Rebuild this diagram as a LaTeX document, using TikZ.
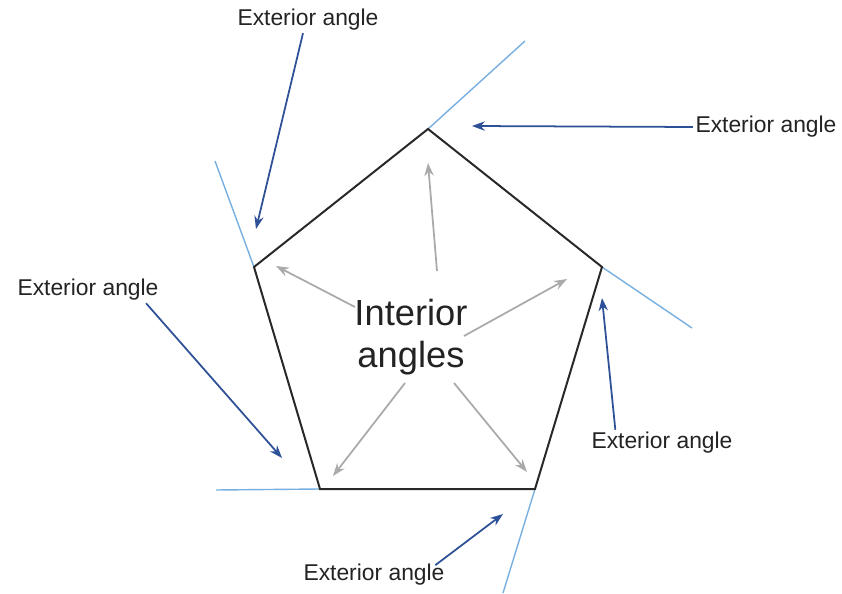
\documentclass[tikz,border=0pt]{standalone}
\usepackage{fontspec}
\setmainfont{Liberation Sans}
\usetikzlibrary{arrows.meta}
\definecolor{edgeline}{RGB}{40,40,40}
\definecolor{extline}{RGB}{120,175,225}
\definecolor{extarrow}{RGB}{45,80,150}
\definecolor{intarrow}{RGB}{170,170,170}
\definecolor{txtcol}{RGB}{35,35,35}

\begin{document}
\begin{tikzpicture}[
  x=0.03cm, y=-0.03cm,
  side/.style={draw=edgeline, line width=1.7pt, line join=miter},
  extension/.style={draw=extline, line width=1.2pt},   % produced side
  exlabel/.style={
    text=txtcol, font=\fontsize{19.5}{23}\selectfont, inner sep=2pt
  },
  inlabel/.style={
    text=txtcol, font=\fontsize{31}{36}\selectfont, align=center, inner sep=0pt
  },
  exarrow/.style={draw=extarrow, line width=1.5pt, -{Stealth[length=11pt,width=8pt]}},
  inarrow/.style={draw=intarrow, line width=1.5pt, -{Stealth[length=11pt,width=8pt]}},
]
\useasboundingbox (0,0) rectangle (842,594);

% ---- Pentagon corners ----
\coordinate (vT)  at (428,129);
\coordinate (vR)  at (602,267);
\coordinate (vBR) at (535,489);
\coordinate (vBL) at (320,489);
\coordinate (vL)  at (254,267);

% ---- Ends of the produced sides ----
\coordinate (eT)  at (525,41);
\coordinate (eR)  at (692,328);
\coordinate (eBR) at (503,593);
\coordinate (eBL) at (216,490);
\coordinate (eL)  at (215,161);

\foreach \v/\e in {vT/eT, vR/eR, vBR/eBR, vBL/eBL, vL/eL}
  \draw[extension] (\v) -- (\e);

\draw[side] (vT) -- (vR) -- (vBR) -- (vBL) -- (vL) -- cycle;

% ---- Interior angles ----
\node (inner) at (411,337) [inlabel] {Interior\\angles};

\coordinate (sT)  at (437,271);  \coordinate (gT)  at (428,163);
\coordinate (sR)  at (464,336);  \coordinate (gR)  at (567,279);
\coordinate (sL)  at (355,307);  \coordinate (gL)  at (276,266);
\coordinate (sBL) at (405,383);  \coordinate (gBL) at (333,476);
\coordinate (sBR) at (454,383);  \coordinate (gBR) at (527,472);

\foreach \s/\g in {sT/gT, sR/gR, sL/gL, sBL/gBL, sBR/gBR}
  \draw[inarrow] (\s) -- (\g);

% ---- Exterior angle labels ----
\node (exA) at (308,20)  [exlabel] {Exterior angle};
\node (exB) at (766,127) [exlabel] {Exterior angle};
\node (exC) at (88,290)  [exlabel] {Exterior angle};
\node (exD) at (662,443) [exlabel] {Exterior angle};
\node (exE) at (374,575) [exlabel] {Exterior angle};

\coordinate (tA) at (256,229);
\coordinate (tB) at (472,126);
\coordinate (tC) at (282,458);
\coordinate (tD) at (602,298);
\coordinate (tE) at (503,514);

\draw[exarrow] ([xshift=-0.15cm]exA.south) -- (tA);
\draw[exarrow] (exB.west) -- (tB);
\draw[exarrow] ([xshift=-0.45cm]exC.south east) -- (tC);
\draw[exarrow] ([xshift=-1.4cm]exD.north) -- (tD);
\draw[exarrow] ([xshift=-0.35cm,yshift=-0.1cm]exE.north east) -- (tE);

\end{tikzpicture}
\end{document}
